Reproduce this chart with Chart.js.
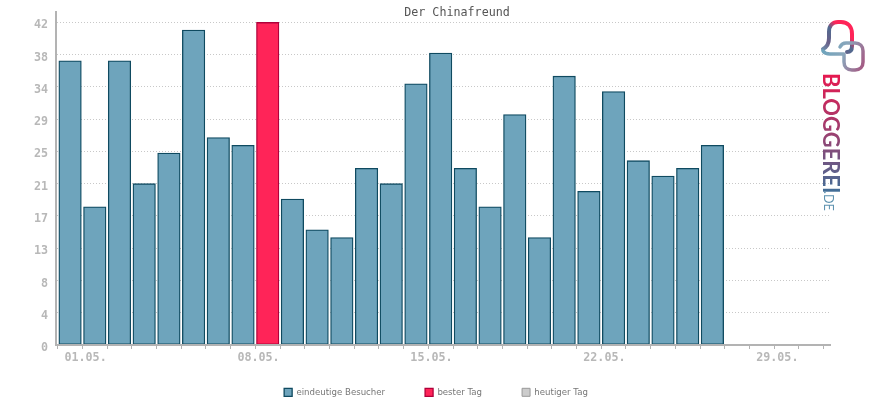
<!DOCTYPE html>
<html><head><meta charset="utf-8">
<style>html,body{margin:0;padding:0;background:#fff}canvas{display:block}</style>
<script src="https://cdn.jsdelivr.net/npm/chart.js@4"></script>
</head><body><canvas id="c" width="870" height="400"></canvas>
<script>
const dayIndex=[...Array(31).keys()];
const dayLabels=['01.05.','','','','','','','08.05.','','','','','','','15.05.','','','','','','','22.05.','','','','','','','29.05.','',''];
const visitors=[37,18,37,21,25,41,27,26,null,19,15,14,23,21,34,38,23,18,30,14,35,20,33,24,22,23,26];
const best=[null,null,null,null,null,null,null,null,42];
const today=[];
const yTicks=[0,4.2,8.4,12.6,16.8,21,25.2,29.4,33.6,37.8,42];
const toXY=a=>a.map((v,i)=>({x:i,y:v}));
const MONO='"DejaVu Sans Mono",monospace';

const logo={id:'logo',
 afterLayout(ch){
  ch.titleBlock.left+=42;ch.titleBlock.right+=42;
  ch.legend.left+=21;ch.legend.right+=21;
  ch.legend.top=348;ch.legend.bottom=400;
 },
 afterDraw(ch){
  const c=ch.ctx;c.save();
  c.lineCap='round';c.lineJoin='round';
  let g=c.createLinearGradient(822,55,853,22);
  g.addColorStop(0,'#6ea4bc');g.addColorStop(.3,'#6a5f88');g.addColorStop(.55,'#4f6a90');g.addColorStop(.72,'#ff2458');g.addColorStop(1,'#ff2458');
  c.strokeStyle=g;c.lineWidth=4;
  c.beginPath();c.moveTo(823,49);c.bezierCurveTo(827,47,829,44,829,38);c.lineTo(829,32);c.bezierCurveTo(829,25,833,22,838,22);c.lineTo(841,22);c.bezierCurveTo(848,22,852,27,852,34);c.lineTo(852,46);c.bezierCurveTo(852,50,850,52,847,52);c.stroke();
  g=c.createLinearGradient(822,52,865,70);
  g.addColorStop(0,'#6ea4bc');g.addColorStop(.45,'#8aa6bb');g.addColorStop(1,'#a8507c');
  c.strokeStyle=g;c.lineWidth=3.5;
  c.beginPath();c.moveTo(823,51);c.bezierCurveTo(825,54,827,54,830,54);c.lineTo(841,54);c.lineTo(844,54);c.lineTo(844,62);c.bezierCurveTo(844,67,847,70,852,70);c.lineTo(855,70);c.bezierCurveTo(860,70,863,67,863,62);c.lineTo(863,51);c.bezierCurveTo(863,46,860,43,855,43);c.lineTo(846,43);c.bezierCurveTo(843,43,841,45,840,47);c.stroke();
  c.translate(823,73);c.rotate(Math.PI/2);
  g=c.createLinearGradient(0,0,120,0);
  g.addColorStop(0,'#e8184f');g.addColorStop(.5,'#9c4070');g.addColorStop(1,'#3f6f98');
  c.fillStyle=g;c.font='bold 21.9px Lato, sans-serif';c.textBaseline='alphabetic';c.textAlign='left';
  c.fillText('BLOGGEREI',0,0);
  c.fillStyle='#5f93b0';c.font='12.5px Lato, sans-serif';c.fillText('.DE',118,-1);
  c.restore();
}};

new Chart(document.getElementById('c'),{
  type:'bar',
  data:{datasets:[
    {label:'eindeutige Besucher',data:toXY(visitors),backgroundColor:'#6ea4bc',borderColor:'#0f4a60',borderWidth:1.3,borderSkipped:false},
    {label:'bester Tag',data:toXY(best),backgroundColor:'#ff2458',borderColor:'#b0003a',borderWidth:1.3,borderSkipped:false},
    {label:'heutiger Tag',data:toXY(today),backgroundColor:'#cccccc',borderColor:'#999999',borderWidth:1,borderSkipped:false}
  ]},
  options:{
    responsive:false,animation:false,
    devicePixelRatio:1,
    datasets:{bar:{grouped:false,barThickness:22.5}},
    layout:{padding:{left:0,right:40,top:0,bottom:0}},
    plugins:{
      tooltip:{enabled:false},
      title:{display:true,text:'Der Chinafreund',color:'#555555',font:{family:MONO,size:11.7,weight:'normal',lineHeight:1.2},padding:{top:6,bottom:-8}},
      legend:{position:'bottom',maxHeight:26,labels:{boxWidth:8,boxHeight:8,padding:40,color:'#777777',font:{family:'"DejaVu Sans",sans-serif',size:8.6}}}
    },
    scales:{
      x:{type:'linear',offset:false,min:-0.57,max:30.76,
        afterBuildTicks(a){a.ticks=dayIndex.map(v=>({value:v}));},
        afterFit(a){a.height=29;a.paddingLeft=0;a.paddingRight=0;},
        grid:{drawOnChartArea:false,drawTicks:true,tickLength:4,tickColor:'#b3b3b3',tickWidth:1},
        border:{display:true,color:'#b3b3b3',width:2,z:2},
        ticks:{autoSkip:false,maxRotation:0,minRotation:0,labelOffset:15.5,padding:2,color:'#b8b8b8',font:{family:MONO,size:11.7,weight:'bold'},callback:v=>dayLabels[v]}
      },
      y:{min:0,max:43.35,
        afterBuildTicks(a){a.ticks=yTicks.map(v=>({value:v}));},
        afterFit(a){a.width=56;a.paddingTop=0;a.paddingBottom=0;},
        grid:{color:'#c8c8c8',lineWidth:1,drawTicks:false},
        border:{display:true,color:'#b3b3b3',width:2,dash:[1,2],z:2},
        ticks:{padding:8,labelOffset:3,color:'#b8b8b8',font:{family:MONO,size:11.7,weight:'bold'},callback:v=>Math.round(v)}
      }
    }
  },
  plugins:[logo]
});
</script></body></html>
